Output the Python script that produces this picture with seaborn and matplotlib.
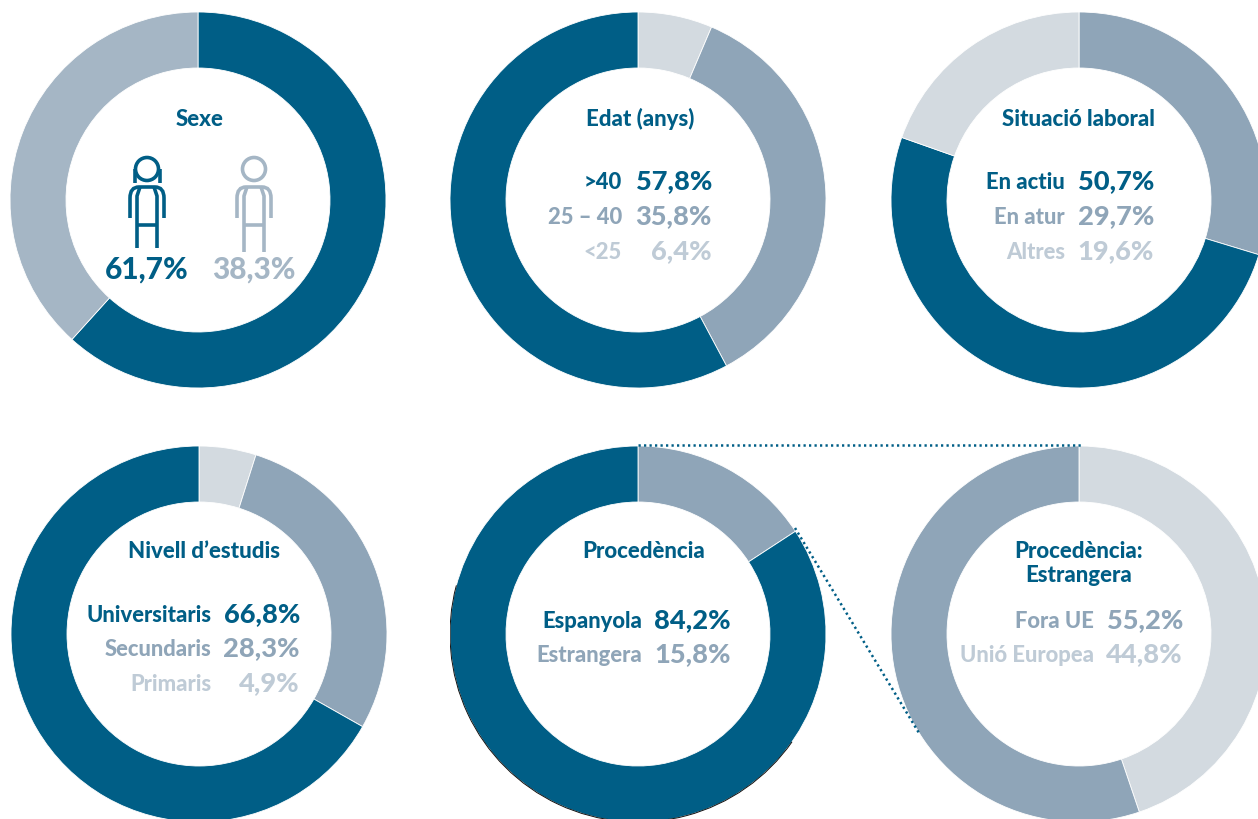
import matplotlib
matplotlib.use("Agg")
import matplotlib.pyplot as plt
from matplotlib.patches import Arc, Circle, PathPatch
from matplotlib.path import Path
import seaborn as sns

sns.set_theme(style="white")
plt.rcParams['font.family'] = ['Lato', 'DejaVu Sans']

DARK, MID, PALE, SOFT = "#005E86", "#8FA5B8", "#D3DAE0", "#A5B6C5"
PALE_TXT = "#BFCBD6"

# --- data ---
sexe_labels = ["Dones", "Homes"]
sexe_values = [61.7, 38.3]
edat_labels = [">40", "25 – 40", "<25"]
edat_values = [57.8, 35.8, 6.4]
laboral_labels = ["En actiu", "En atur", "Altres"]
laboral_values = [50.7, 29.7, 19.6]
estudis_labels = ["Universitaris", "Secundaris", "Primaris"]
estudis_values = [66.8, 28.3, 4.9]
proc_labels = ["Espanyola", "Estrangera"]
proc_values = [84.2, 15.8]
estr_labels = ["Fora UE", "Unió Europea"]
estr_values = [55.2, 44.8]

W, H = 1258, 819
R, INNER = 188, 132
fig = plt.figure(figsize=(W / 100, H / 100), dpi=100, facecolor="white")


def donut(cx, cy, order, values, colors, r=R):
    ax = fig.add_axes([(cx - r) / W, 1 - (cy + r) / H, 2 * r / W, 2 * r / H])
    ax.pie([values[i] for i in order], colors=colors, startangle=90, counterclock=False,
           radius=1, wedgeprops=dict(width=1 - INNER / R, linewidth=0.6, edgecolor="white"))
    ax.set_xlim(-1, 1)
    ax.set_ylim(-1, 1)
    ax.set_aspect("equal")
    ax.axis("off")
    return ax


donut(198, 200, [0, 1], sexe_values, [DARK, SOFT])
donut(638, 200, [2, 1, 0], edat_values, [PALE, MID, DARK])
donut(1079, 200, [1, 0, 2], laboral_values, [MID, DARK, PALE])
donut(199, 634, [2, 1, 0], estudis_values, [PALE, MID, DARK])
proc_ax = donut(638, 634, [1, 0], proc_values, [MID, DARK])
donut(1079, 634, [1, 0], estr_values, [PALE, MID])

# thin dark rim on the lower left of the Procedència ring
proc_ax.add_patch(Arc((0, 0), 2, 2, theta1=165, theta2=325, color="#111111", lw=0.7))

# overlay in pixel coordinates
ov = fig.add_axes([0, 0, 1, 1], facecolor="none")
ov.set_xlim(0, W)
ov.set_ylim(H, 0)
ov.axis("off")

TITLE = dict(fontsize=16, fontweight=900, color=DARK, ha="center", va="center")
LABEL = dict(fontsize=15.8, fontweight=900, ha="right", va="center")
VALUE = dict(fontsize=19.6, fontweight=900, ha="right", va="center")


def pct(v):
    return f"{v:.1f}%".replace(".", ",")


def rows(labels, values, colors, xl, xv, ys):
    for lab, val, c, y in zip(labels, values, colors, ys):
        ov.text(xl, y + 1.5, lab, color=c, **LABEL)
        ov.text(xv, y + 0.5, pct(val), color=c, **VALUE)


ov.text(200, 119, "Sexe", **TITLE)
ov.text(640, 119, "Edat (anys)", **TITLE)
ov.text(1078, 119, "Situació laboral", **TITLE)
ov.text(204, 552, "Nivell d’estudis", **TITLE)
ov.text(644, 552, "Procedència", **TITLE)
ov.text(1079, 563.5, "Procedència:\nEstrangera", linespacing=1.13, **TITLE)

rows(edat_labels, edat_values, [DARK, MID, PALE_TXT], 622, 712, [181, 216, 251])
rows(laboral_labels, laboral_values, [DARK, MID, PALE_TXT], 1065, 1154, [181, 216, 251])
rows(estudis_labels, estudis_values, [DARK, MID, PALE_TXT], 211, 300, [614, 648, 683])
rows(proc_labels, proc_values, [DARK, MID], 642, 731, [620, 654])
rows(estr_labels, estr_values, [MID, PALE_TXT], 1094, 1183, [620, 654])

ov.text(147, 270, pct(sexe_values[0]), color=DARK, fontsize=21.5, fontweight=900, ha="center", va="center")
ov.text(254, 270, pct(sexe_values[1]), color=SOFT, fontsize=21.5, fontweight=900, ha="center", va="center")


def person(cx, color, female):
    lw = 2.6
    ov.add_patch(Circle((cx, 169), 11.5, fill=False, ec=color, lw=lw))
    ls = dict(color=color, lw=lw, solid_capstyle="butt")
    leg_end = 248 if female else 252
    # outer arch: arm, shoulders, arm
    arch = Path([(cx - 17, 218), (cx - 17, 198), (cx - 17, 187), (cx - 8, 187),
                 (cx + 8, 187), (cx + 17, 187), (cx + 17, 198), (cx + 17, 218)],
                [Path.MOVETO, Path.LINETO, Path.CURVE3, Path.CURVE3,
                 Path.LINETO, Path.CURVE3, Path.CURVE3, Path.LINETO])
    ov.add_patch(PathPatch(arch, fill=False, ec=color, lw=lw, capstyle="butt"))
    # torso sides and legs
    for s in (-1, 1):
        ov.plot([cx + s * 10, cx + s * 10, cx + s * 7],
                [leg_end, 196, 187], **ls)
    ov.plot([cx - 11, cx + 11], [225, 225], **ls)
    if female:
        for s in (-1, 1):
            ov.plot([cx + s * 12.5, cx + s * 12.5], [169, 183], **ls)


person(147, DARK, True)
person(254, SOFT, False)

# dotted connectors between Procedència and its breakdown
dot = dict(color=DARK, lw=1.8, linestyle=(0, (0.9, 1.3)))
ov.plot([638, 1082], [445, 445], **dot)
ov.plot([795, 919], [528, 733], **dot)

fig.savefig("out.png", dpi=100, facecolor="white")
